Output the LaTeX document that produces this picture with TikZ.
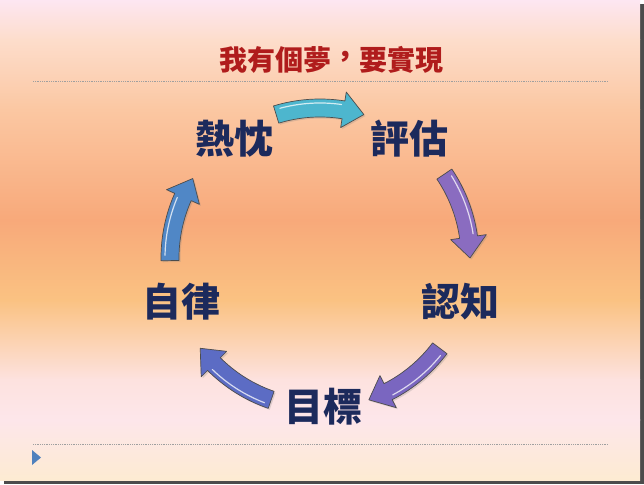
\documentclass[tikz,border=0pt]{standalone}
\usepackage{fontspec}
\newfontfamily\cjk{Noto Sans CJK TC}
\usetikzlibrary{shadows}
\definecolor{bgA}{HTML}{FDE6F2}
\definecolor{bgB}{HTML}{FDDDCB}
\definecolor{bgC}{HTML}{FBC7A2}
\definecolor{bgD}{HTML}{F8A97A}
\definecolor{bgE}{HTML}{FAC282}
\definecolor{bgF}{HTML}{FDE2DF}
\definecolor{bgG}{HTML}{FDE6EA}
\definecolor{bgH}{HTML}{FDEBD2}
\definecolor{titlered}{HTML}{B01C1C}
\definecolor{navy}{HTML}{1C2A5C}
\definecolor{arrCyan}{HTML}{4DB6CE}
\definecolor{arrPurpleA}{HTML}{8A6CC0}
\definecolor{arrPurpleB}{HTML}{7A66C0}
\definecolor{arrBlueA}{HTML}{5C6CC4}
\definecolor{arrBlueB}{HTML}{5087C6}
\definecolor{bullet}{HTML}{4F81BD}
\tikzset{
  labeltext/.style={font=\cjk\bfseries\fontsize{39}{42}\selectfont, text=navy, anchor=base, inner sep=0pt},
  titletext/.style={font=\cjk\bfseries\fontsize{28}{30}\selectfont, text=titlered, anchor=base, inner sep=0pt},
  rule/.style={densely dotted, draw=gray!75, line width=0.8pt},
  arrowbody/.style={draw=black!70, line width=0.7pt, line join=round,
     drop shadow={opacity=0.25, shadow xshift=1.5pt, shadow yshift=-1.5pt}},
  highlight/.style={draw=white, line width=1.2pt, opacity=0.75, line cap=round}
}
\newcommand{\twcomma}{\hbox to 1em{\raisebox{0.17em}{\rlap{，}}\hss}}
\newcommand{\cycarr}[3]{%
  \pgfmathsetmacro\headang{#2+8}%
  \pgfmathsetmacro\hlstart{#1-2}%
  \pgfmathsetmacro\hlend{#2+9}%
  \path[arrowbody, fill=#3] (#1:159) arc[start angle=#1, end angle=\headang, radius=159]
     -- (\headang:168) -- (#2:150) -- (\headang:132) -- (\headang:141)
     arc[start angle=\headang, end angle=#1, radius=141] -- cycle;
  \draw[highlight] (\hlstart:155) arc[start angle=\hlstart, end angle=\hlend, radius=155];
}
\begin{document}
\begin{tikzpicture}[x=1pt,y=1pt]
\useasboundingbox (0,0) rectangle (644,484);
\fill[white] (0,0) rectangle (644,484);
% slide shadow
\fill[black!70] (4,0) rectangle (644,480);
% slide background
\fill[top color=bgA, bottom color=bgB] (0,484) rectangle (640,444);
\fill[top color=bgB, bottom color=bgC] (0,444.2) rectangle (640,374);
\fill[top color=bgC, bottom color=bgD] (0,374.2) rectangle (640,264);
\fill[top color=bgD, bottom color=bgE] (0,264.2) rectangle (640,184);
\fill[top color=bgE, bottom color=bgF] (0,184.2) rectangle (640,104);
\fill[top color=bgF, bottom color=bgG] (0,104.2) rectangle (640,64);
\fill[top color=bgG, bottom color=bgH] (0,64.2) rectangle (640,4);
% rules and bullet
\draw[rule] (33,403) -- (608,403);
\draw[rule] (33,40) -- (608,40);
\fill[bullet] (32,34) -- (32,19) -- (41,26.5) -- cycle;
% title
\node[titletext] (title) at (331,413) {我有個夢\twcomma 要實現};
% cycle arrows
\begin{scope}[shift={(320,226)}]
  \cycarr{107}{73}{arrCyan}
  \cycarr{34}{0}{arrPurpleA}
  \cycarr{-37}{-71}{arrPurpleB}
  \cycarr{-109}{-143}{arrBlueA}
  \cycarr{181}{148}{arrBlueB}
\end{scope}
% labels
\node[labeltext] (passion) at (234,330) {熱忱};
\node[labeltext] (assess) at (409,330) {評估};
\node[labeltext] (aware) at (460,167) {認知};
\node[labeltext] (goal) at (323,63) {目標};
\node[labeltext] (discipline) at (181,167) {自律};
\end{tikzpicture}
\end{document}
